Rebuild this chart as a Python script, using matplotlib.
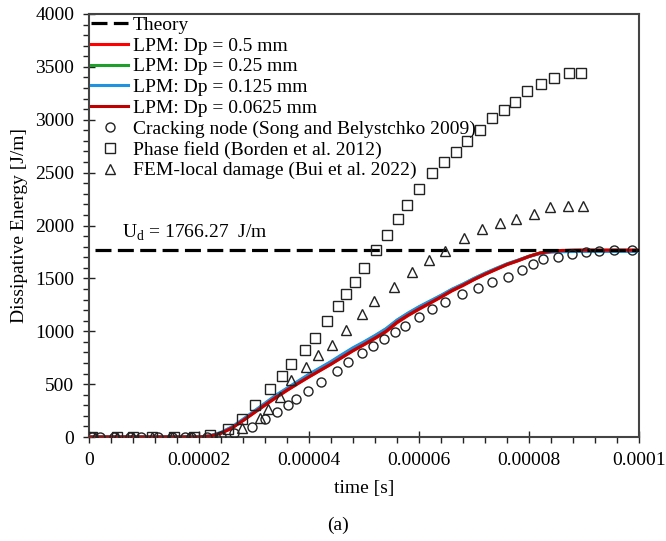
import matplotlib
matplotlib.use("Agg")
import matplotlib.pyplot as plt
from matplotlib.ticker import MultipleLocator, FuncFormatter
import numpy as np

plt.rcParams['font.family'] = ['Liberation Serif', 'DejaVu Serif']
plt.rcParams['mathtext.fontset'] = 'custom'
plt.rcParams['mathtext.rm'] = 'Liberation Serif'

# --- data (time in microseconds, energy in J/m) ---
theory_ud = 1766.27

lpm_t = [0, 10, 20, 22, 24, 26, 28, 30, 32, 34, 36, 38, 40, 42, 44, 46, 48, 50,
         52, 54, 56, 58, 60, 62, 64, 66, 68, 70, 72, 74, 76, 78, 80, 82, 84, 86,
         88, 90, 95, 100]
lpm_05 = [0, 0, 0, 8, 35, 85, 155, 228, 300, 372, 440, 505, 568, 628, 688, 752,
          815, 872, 932, 995, 1080, 1148, 1208, 1265, 1322, 1382, 1432, 1488,
          1538, 1584, 1630, 1666, 1706, 1738, 1754, 1762, 1765, 1766, 1766, 1766]
lpm_025 = [0, 0, 0, 10, 40, 92, 162, 238, 314, 390, 456, 522, 588, 648, 708, 774,
           838, 895, 955, 1020, 1102, 1168, 1228, 1282, 1336, 1395, 1444, 1498,
           1547, 1592, 1636, 1671, 1710, 1740, 1753, 1758, 1760, 1760, 1760, 1760]
lpm_0125 = [0, 0, 0, 12, 44, 96, 168, 244, 320, 396, 462, 528, 594, 654, 714,
            780, 844, 900, 960, 1024, 1106, 1172, 1232, 1286, 1340, 1398, 1447,
            1500, 1549, 1594, 1637, 1672, 1708, 1735, 1748, 1752, 1754, 1755,
            1755, 1755]
lpm_00625 = [0, 0, 0, 8, 36, 86, 156, 230, 304, 376, 444, 508, 570, 630, 690,
             754, 818, 876, 936, 1000, 1086, 1152, 1212, 1268, 1325, 1385, 1436,
             1490, 1540, 1586, 1632, 1668, 1708, 1740, 1756, 1764, 1766, 1767,
             1767, 1767]

crack_t = [0.5, 2.0, 4.5, 7.5, 9.5, 12.5, 15.0, 17.5, 18.5, 21.5, 24.0, 26.4,
           29.6, 32.0, 34.1, 36.1, 37.6, 39.8, 42.1, 45.0, 47.0, 49.6, 51.7, 53.6,
           55.6, 57.5, 60.0, 62.4, 64.8, 67.9, 70.8, 73.3, 76.2, 78.7, 80.7, 82.6,
           85.3, 87.8, 90.3, 92.7, 95.5, 98.8]
crack_e = [0, 0, 0, 0, 0, 0, 0, 0, 0, 0, 5, 38, 95, 167, 233, 300, 359, 432,
           521, 625, 705, 797, 863, 924, 990, 1053, 1138, 1214, 1277, 1349, 1406,
           1466, 1516, 1579, 1636, 1680, 1702, 1733, 1746, 1762, 1768, 1768]

phase_t = [0.5, 5.0, 8.0, 11.5, 15.5, 19.0, 22.0, 25.2, 27.9, 30.1, 32.9, 35.0,
           36.8, 39.2, 41.0, 43.3, 45.2, 46.7, 48.3, 50.0, 52.2, 54.1, 56.1, 57.9,
           60.0, 62.4, 64.6, 66.7, 68.8, 71.1, 73.3, 75.5, 77.5, 79.7, 82.1, 84.5,
           87.2, 89.4]
phase_e = [0, 0, 0, 0, 0, 0, 19, 72, 173, 300, 454, 580, 693, 823, 936, 1094,
           1239, 1355, 1469, 1598, 1765, 1910, 2058, 2194, 2345, 2494, 2604, 2692,
           2799, 2903, 3017, 3089, 3171, 3272, 3338, 3398, 3445, 3445]

fem_t = [1.0, 5.0, 8.0, 11.5, 15.0, 18.5, 23.5, 27.8, 31.0, 32.6, 34.8, 36.7,
         39.4, 41.6, 44.2, 46.7, 49.6, 51.9, 55.4, 58.7, 61.8, 64.8, 68.2, 71.4,
         74.8, 77.7, 80.9, 83.8, 87.0, 89.9]
fem_e = [0, 0, 0, 0, 0, 0, 3, 82, 177, 262, 378, 536, 658, 773, 874, 1015, 1165,
         1285, 1418, 1563, 1674, 1762, 1885, 1970, 2020, 2058, 2108, 2172, 2184,
         2184]

us = 1e-6
fig = plt.figure(figsize=(6.66, 5.41), dpi=100)
ax = fig.add_axes([89 / 666, 1 - 437 / 541, 550 / 666, 423 / 541])

ax.plot([1 * us, 100 * us], [theory_ud, theory_ud], color='black', lw=2.3,
        dashes=(5, 2), label='Theory', zorder=5)
ax.plot(np.array(lpm_t) * us, lpm_05, color='#FF0000', lw=2.2,
        label='LPM: Dp = 0.5 mm', zorder=3)
ax.plot(np.array(lpm_t) * us, lpm_025, color='#1E9E2A', lw=2.2,
        label='LPM: Dp = 0.25 mm', zorder=3)
ax.plot(np.array(lpm_t) * us, lpm_0125, color='#1F93E0', lw=2.2,
        label='LPM: Dp = 0.125 mm', zorder=3)
ax.plot(np.array(lpm_t) * us, lpm_00625, color='#C00000', lw=2.2,
        label='LPM: Dp = 0.0625 mm', zorder=4)

mk = dict(ls='none', mfc='none', mec='#222222', mew=1.0, ms=6.5, zorder=6)
ax.plot(np.array(crack_t) * us, crack_e, marker='o',
        label='Cracking node (Song and Belystchko 2009)', **mk)
ax.plot(np.array(phase_t) * us, phase_e, marker='s',
        label='Phase field (Borden et al. 2012)', **mk)
ax.plot(np.array(fem_t) * us, fem_e, marker='^',
        label='FEM-local damage (Bui et al. 2022)', **mk)

ax.text(6 * us, 1930, r'U$_{\rm d}$ = 1766.27  J/m', fontsize=14,
        va='center', ha='left')

ax.set_xlim(0, 100 * us)
ax.set_ylim(0, 4000)
ax.xaxis.set_major_locator(MultipleLocator(20 * us))
ax.xaxis.set_minor_locator(MultipleLocator(4 * us))
ax.yaxis.set_major_locator(MultipleLocator(500))
ax.yaxis.set_minor_locator(MultipleLocator(100))
ax.xaxis.set_major_formatter(FuncFormatter(lambda v, p: '0' if abs(v) < 1e-12 else ('%.5f' % v).rstrip('0')))

ax.tick_params(which='major', direction='inout', length=9, width=1,
               labelsize=14, colors='#222222', pad=6)
ax.tick_params(which='minor', direction='out', length=4, width=1, colors='#222222')
ax.tick_params(axis='both', labelcolor='black')
for s in ax.spines.values():
    s.set_color('#444444')
    s.set_linewidth(1.5)

ax.set_xlabel('time [s]', fontsize=14, labelpad=8)
ax.set_ylabel('Dissipative Energy [J/m]', fontsize=14, labelpad=5)

ax.legend(loc='upper left', bbox_to_anchor=(0, 1), frameon=False, fontsize=14,
          borderaxespad=0, borderpad=0.12, labelspacing=0.16, handlelength=1.9,
          handletextpad=0.25)

fig.text(338 / 666, 1 - 525 / 541, '(a)', fontsize=14, ha='center', va='center')

fig.savefig('out.png', dpi=100)
